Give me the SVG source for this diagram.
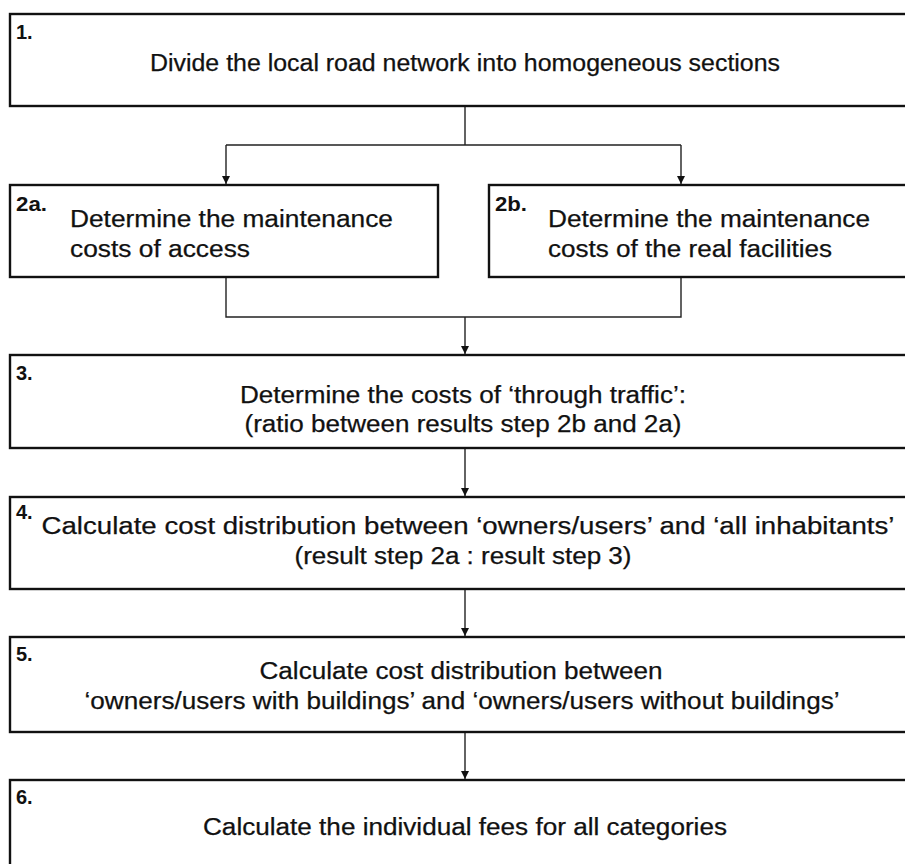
<svg xmlns="http://www.w3.org/2000/svg" width="905" height="864" viewBox="0 0 905 864">
<defs>
<marker id="ah" markerWidth="8" markerHeight="10" refX="8" refY="5" orient="auto" markerUnits="userSpaceOnUse">
<path d="M0,1 L8,5 L0,9 Z" fill="#111"/>
</marker>
<style>
.box{fill:#fff;stroke:#111;stroke-width:2.4}
.con{fill:none;stroke:#222;stroke-width:1.4}
.t{font-family:"Liberation Sans",Arial,sans-serif;font-size:23px;fill:#111;stroke:#111;stroke-width:0.25;text-anchor:middle}
.tl{font-family:"Liberation Sans",Arial,sans-serif;font-size:23px;fill:#111;stroke:#111;stroke-width:0.25}
.n{font-family:"Liberation Sans",Arial,sans-serif;font-size:20px;font-weight:bold;fill:#111}
</style>
</defs>
<rect width="905" height="864" fill="#fff"/>
<g id="connectors">
<path class="con" d="M465,106 V145 M226,145 H681"/>
<path class="con" d="M226,145 V184" marker-end="url(#ah)"/>
<path class="con" d="M681,145 V184" marker-end="url(#ah)"/>
<path class="con" d="M226,277 V317 H681 V277"/>
<path class="con" d="M465,317 V354" marker-end="url(#ah)"/>
<path class="con" d="M465,448 V496" marker-end="url(#ah)"/>
<path class="con" d="M465,589 V636" marker-end="url(#ah)"/>
<path class="con" d="M465,732 V779" marker-end="url(#ah)"/>
</g>
<g id="node1">
<rect class="box" x="10" y="14" width="910" height="92"/>
<text class="n" x="16" y="39">1.</text>
<text class="t" x="465" y="71" textLength="630" lengthAdjust="spacingAndGlyphs">Divide the local road network into homogeneous sections</text>
</g>
<g id="node2a">
<rect class="box" x="10" y="185" width="428" height="92"/>
<text class="n" x="16" y="211" textLength="31" lengthAdjust="spacingAndGlyphs">2a.</text>
<text class="tl" x="70" y="227" textLength="323" lengthAdjust="spacingAndGlyphs">Determine the maintenance</text>
<text class="tl" x="70" y="257" textLength="180" lengthAdjust="spacingAndGlyphs">costs of access</text>
</g>
<g id="node2b">
<rect class="box" x="489" y="185" width="431" height="92"/>
<text class="n" x="495" y="211" textLength="32" lengthAdjust="spacingAndGlyphs">2b.</text>
<text class="tl" x="548" y="227" textLength="322" lengthAdjust="spacingAndGlyphs">Determine the maintenance</text>
<text class="tl" x="548" y="257" textLength="284" lengthAdjust="spacingAndGlyphs">costs of the real facilities</text>
</g>
<g id="node3">
<rect class="box" x="10" y="355" width="910" height="93"/>
<text class="n" x="16" y="380">3.</text>
<text class="t" x="463" y="403" textLength="446" lengthAdjust="spacingAndGlyphs">Determine the costs of ‘through traffic’:</text>
<text class="t" x="463" y="432" textLength="437" lengthAdjust="spacingAndGlyphs">(ratio between results step 2b and 2a)</text>
</g>
<g id="node4">
<rect class="box" x="10" y="497" width="910" height="92"/>
<text class="n" x="16" y="519">4.</text>
<text class="t" x="468" y="534" textLength="853" lengthAdjust="spacingAndGlyphs">Calculate cost distribution between ‘owners/users’ and ‘all inhabitants’</text>
<text class="t" x="463" y="564" textLength="337" lengthAdjust="spacingAndGlyphs">(result step 2a : result step 3)</text>
</g>
<g id="node5">
<rect class="box" x="10" y="637" width="910" height="95"/>
<text class="n" x="16" y="661">5.</text>
<text class="t" x="461" y="679" textLength="403" lengthAdjust="spacingAndGlyphs">Calculate cost distribution between</text>
<text class="t" x="462" y="709" textLength="755" lengthAdjust="spacingAndGlyphs">‘owners/users with buildings’ and ‘owners/users without buildings’</text>
</g>
<g id="node6">
<rect class="box" x="10" y="780" width="910" height="100"/>
<text class="n" x="16" y="804">6.</text>
<text class="t" x="465" y="835" textLength="524" lengthAdjust="spacingAndGlyphs">Calculate the individual fees for all categories</text>
</g>
</svg>
